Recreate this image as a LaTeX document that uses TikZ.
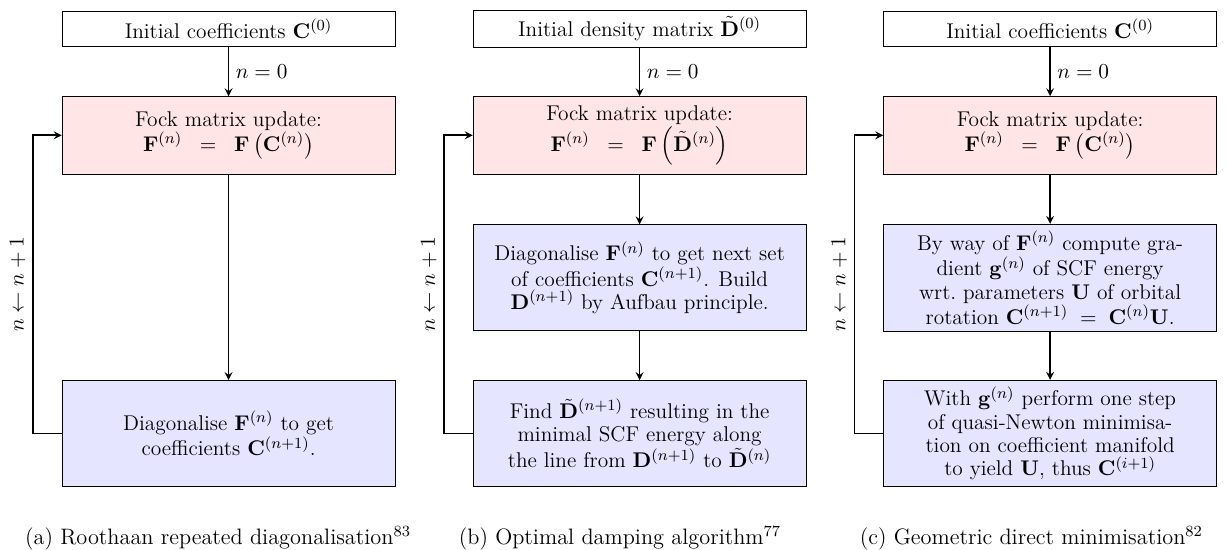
\documentclass[tikz,border=0pt]{standalone}
\usepackage{amsmath}
\usepackage{amssymb}
\usepackage{tikz}

\begin{document}
\begin{tikzpicture}[-,>=stealth,auto,
	init node/.style={rectangle,draw,minimum width=6.03cm,minimum height=0.64cm},
	fock node/.style={rectangle,draw,fill=red!10,minimum width=6.03cm,minimum height=1.4cm,align=center},
	diag node/.style={rectangle,draw,fill=blue!10,minimum width=6.03cm,minimum height=1.92cm,align=center},
	cap node/.style={font=\fontsize{11.5}{14}\selectfont}]
	\tikzstyle{every node}=[font=\fontsize{11}{12}\selectfont]
	\useasboundingbox (0,0) rectangle (22.26,-9.96);
	% (a) Roothaan
	\draw
		(4.14,-0.52)  node(a1) [init node] {Initial coefficients $\mathbf{C}^{(0)}$}
		(4.14,-2.45)  node(a2) [fock node] {Fock matrix update:\\ $\mathbf{F}^{(n)}\;\;=\;\;\mathbf{F}\left(\mathbf{C}^{(n)}\right)$}
		(4.14,-7.85)  node(a3) [diag node] {Diagonalise $\mathbf{F}^{(n)}$ to get\\ coefficients $\mathbf{C}^{(n+1)}$.}
		(3.95,-9.75)  node(ca) [cap node] {(a) Roothaan repeated diagonalisation$^{83}$};

	\draw [->,thick] (a1) to node {$n=0$} (a2);
	\draw [->,thick] (a2) to (a3);
	\draw [->,thick] (a3.west) -- ++(-0.525,0) |- node[pos=0.25,sloped] {$n \leftarrow n+1$} (a2.west);

	% (b) optimal damping
	\draw
		(11.585,-0.52) node(b1) [init node] {Initial density matrix $\tilde{\mathbf{D}}^{(0)}$}
		(11.585,-2.45) node(b2) [fock node] {Fock matrix update:\\ $\mathbf{F}^{(n)}\;\;=\;\;\mathbf{F}\left(\tilde{\mathbf{D}}^{(n)}\right)$}
		(11.585,-5.03) node(b3) [diag node] {Diagonalise $\mathbf{F}^{(n)}$ to get next set\\ of coefficients $\mathbf{C}^{(n+1)}$. Build\\ $\mathbf{D}^{(n+1)}$ by Aufbau principle.}
		(11.585,-7.85) node(b4) [diag node] {Find $\tilde{\mathbf{D}}^{(n+1)}$ resulting in the\\ minimal SCF energy along\\ the line from $\mathbf{D}^{(n+1)}$ to $\tilde{\mathbf{D}}^{(n)}$}
		(11.23,-9.75)  node(cb) [cap node] {(b) Optimal damping algorithm$^{77}$};

	\draw [->,thick] (b1) to node {$n=0$} (b2);
	\draw [->,thick] (b2) to (b3);
	\draw [->,thick] (b3) to (b4);
	\draw [->,thick] (b4.west) -- ++(-0.525,0) |- node[pos=0.25,sloped] {$n \leftarrow n+1$} (b2.west);

	% (c) geometric direct minimisation
	\draw
		(19.02,-0.52) node(c1) [init node] {Initial coefficients $\mathbf{C}^{(0)}$}
		(19.02,-2.45) node(c2) [fock node] {Fock matrix update:\\ $\mathbf{F}^{(n)}\;\;=\;\;\mathbf{F}\left(\mathbf{C}^{(n)}\right)$}
		(19.02,-5.03) node(c3) [diag node] {By way of $\mathbf{F}^{(n)}$ compute gra-\\ dient $\mathbf{g}^{(n)}$ of SCF energy\\ wrt.\ parameters $\mathbf{U}$ of orbital\\ rotation $\mathbf{C}^{(n+1)}\;=\;\mathbf{C}^{(n)}\mathbf{U}$.}
		(19.02,-7.85) node(c4) [diag node] {With $\mathbf{g}^{(n)}$ perform one step\\ of quasi-Newton minimisa-\\ tion on coefficient manifold\\ to yield $\mathbf{U}$, thus $\mathbf{C}^{(i+1)}$}
		(18.68,-9.75) node(cc) [cap node] {(c) Geometric direct minimisation$^{82}$};

	\draw [->,thick] (c1) to node {$n=0$} (c2);
	\draw [->,thick] (c2) to (c3);
	\draw [->,thick] (c3) to (c4);
	\draw [->,thick] (c4.west) -- ++(-0.525,0) |- node[pos=0.25,sloped] {$n \leftarrow n+1$} (c2.west);
\end{tikzpicture}
\end{document}
